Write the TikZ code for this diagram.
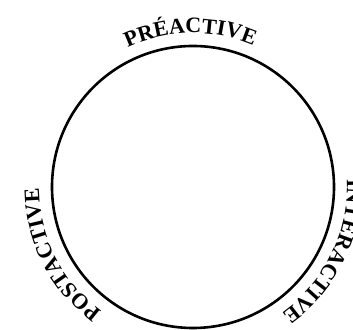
\documentclass[tikz,border=0pt]{standalone}
\usepackage{fontspec}
\setmainfont{Liberation Serif}
\usepackage{tikz}
\usetikzlibrary{decorations.text}
\newcommand{\arcfont}{\bfseries\fontsize{22}{22}\selectfont}
\tikzstyle{ring} = [draw=black, line width=2.6pt]
\tikzset{arclabel/.style={decorate, decoration={text along path, text={|\arcfont|#1}, text align=center}}}

\begin{document}
\begin{tikzpicture}[x=1pt,y=1pt]
\clip (-193,-142) rectangle (160,187);
\useasboundingbox (-193,-142) rectangle (160,187);
\coordinate (c) at (0,0);
\draw[ring] (c) circle[radius=141];

% labels round the ring
\path[arclabel={PRÉACTIVE}] (c) ++(151:154) arc[start angle=151, end angle=31, radius=154];
\path[arclabel={INTERACTIVE}] (c) ++(34:154) arc[start angle=34, end angle=-86, radius=154];
\path[arclabel={POSTACTIVE}] (c) ++(267:154) arc[start angle=267, end angle=147, radius=154];
\end{tikzpicture}
\end{document}
